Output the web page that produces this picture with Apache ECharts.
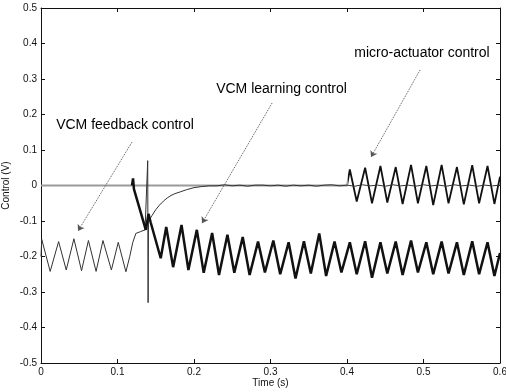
<!DOCTYPE html>
<html>
<head>
<meta charset="utf-8">
<script src="https://cdn.jsdelivr.net/npm/echarts@6/dist/echarts.min.js"></script>
<style>
  html, body { margin: 0; padding: 0; background: #fff; }
  #chart { width: 506px; height: 392px; }
</style>
</head>
<body>
<div id="chart"></div>
<script>
// time (s), control (V)
const feedback = [
  [0, -0.2], [0.001, -0.152], [0.012, -0.242], [0.023, -0.158], [0.033, -0.238],
  [0.043, -0.15], [0.053, -0.24], [0.062, -0.155], [0.072, -0.242], [0.081, -0.155],
  [0.092, -0.238], [0.101, -0.16], [0.111, -0.243], [0.116, -0.2], [0.12, -0.16],
  [0.124, -0.135], [0.13, -0.13], [0.136, -0.125], [0.1395, 0.07], [0.14, -0.33],
  [0.1405, -0.1], [0.145, -0.085], [0.15, -0.068], [0.155, -0.055], [0.16, -0.044],
  [0.165, -0.035], [0.17, -0.028], [0.175, -0.023], [0.182, -0.018], [0.19, -0.012],
  [0.2, -0.006], [0.21, -0.003], [0.22, -0.001], [0.23, -0.001], [0.24, 0.002],
  [0.25, -0.001], [0.26, 0.001], [0.27, -0.002], [0.28, 0.001], [0.29, 0.001],
  [0.3, -0.001], [0.31, 0.001], [0.32, -0.002], [0.33, 0.001], [0.34, -0.001],
  [0.35, 0.001], [0.36, -0.002], [0.37, 0.001], [0.38, 0.002], [0.39, -0.001],
  [0.4, 0.001], [0.41, -0.002], [0.42, 0.002], [0.43, -0.001], [0.44, 0.001],
  [0.45, -0.002], [0.46, 0.002], [0.47, -0.001], [0.48, 0.001], [0.49, -0.002],
  [0.5, 0.002], [0.51, -0.001], [0.52, 0.001], [0.53, -0.002], [0.54, 0.002],
  [0.55, -0.001], [0.56, 0.001], [0.57, -0.002], [0.58, 0.001], [0.59, -0.001],
  [0.6, 0.001]
];

const learning = [
  [0.119, 0], [0.1203, 0.02], [0.1215, -0.01], [0.137, -0.125], [0.1405, -0.08],
  [0.1435, -0.105], [0.1565, -0.205],
  [0.1637, -0.117], [0.1727, -0.23], [0.1837, -0.111], [0.1927, -0.238],
  [0.2037, -0.125], [0.2127, -0.246], [0.2237, -0.134], [0.2327, -0.252],
  [0.2437, -0.139], [0.2527, -0.246], [0.2637, -0.145], [0.2727, -0.252],
  [0.2837, -0.158], [0.2927, -0.245], [0.3037, -0.155], [0.3127, -0.25],
  [0.3237, -0.16], [0.3327, -0.262], [0.3437, -0.157], [0.3527, -0.248],
  [0.3637, -0.135], [0.3727, -0.255], [0.3837, -0.158], [0.3927, -0.245],
  [0.4037, -0.16], [0.4127, -0.25], [0.4237, -0.157], [0.4327, -0.26],
  [0.4437, -0.16], [0.4527, -0.248], [0.4637, -0.158], [0.4727, -0.252],
  [0.4837, -0.155], [0.4927, -0.245], [0.5037, -0.16], [0.5127, -0.25],
  [0.5237, -0.158], [0.5327, -0.248], [0.5437, -0.16], [0.5527, -0.252],
  [0.5637, -0.157], [0.5727, -0.25], [0.5837, -0.16], [0.5927, -0.255],
  [0.6, -0.19]
];

const micro = [
  [0, 0], [0.4, 0], [0.4037, 0.045], [0.4127, -0.045], [0.4237, 0.05],
  [0.4327, -0.05], [0.4437, 0.055], [0.4527, -0.048], [0.4637, 0.052],
  [0.4727, -0.052], [0.4837, 0.058], [0.4927, -0.05], [0.5037, 0.055],
  [0.5127, -0.055], [0.5237, 0.058], [0.5327, -0.05], [0.5437, 0.052],
  [0.5527, -0.053], [0.5637, 0.057], [0.5727, -0.05], [0.5837, 0.055],
  [0.5927, -0.052], [0.6, 0.025]
];
const microStart = 0.4;

// annotations: label, label centre, arrow start, arrow tip (data units)
const noteNames = ['VCM feedback control', 'VCM learning control', 'micro-actuator control'];
const notePos = [[0.1098, 0.17], [0.3144, 0.272], [0.498, 0.373]];
const arrowFrom = [[0.119, 0.1225], [0.302, 0.232], [0.4954, 0.325]];
const arrowTo = [[0.0484, -0.128], [0.2105, -0.106], [0.4314, 0.08]];

const xTicks = { min: 0, max: 0.6, interval: 0.1 };
const yTicks = { min: -0.5, max: 0.5, interval: 0.1 };

const chart = echarts.init(document.getElementById('chart'));

const fmt = v => String(+v.toFixed(1));
const tickStyle = { show: true, inside: true, length: 4, lineStyle: { color: '#111', width: 1 } };
const lineAxis = { show: true, onZero: false, lineStyle: { color: '#111', width: 1 } };
const labelStyle = { color: '#111', fontSize: 10, fontFamily: 'Liberation Sans, Arial, sans-serif' };

// micro-actuator output is flat (grey) until it switches on
const cut = (microStart - micro[0][0]) / (micro[micro.length - 1][0] - micro[0][0]);
const microColor = new echarts.graphic.LinearGradient(0, 0, 1, 0, [
  { offset: 0, color: '#9a9a9a' }, { offset: cut, color: '#9a9a9a' },
  { offset: cut, color: '#111' }, { offset: 1, color: '#111' }
]);

chart.setOption({
  animation: false,
  backgroundColor: '#fff',
  grid: { left: 41, right: 6, top: 8, bottom: 29, containLabel: false, outerBoundsMode: 'none' },
  xAxis: [
    {
      type: 'value', ...xTicks, position: 'bottom',
      axisLine: lineAxis, axisTick: tickStyle,
      axisLabel: { ...labelStyle, margin: 4, formatter: fmt },
      splitLine: { show: false },
      name: 'Time (s)', nameLocation: 'middle', nameGap: 15, nameMoveOverlap: false,
      nameTextStyle: labelStyle
    },
    {
      type: 'value', ...xTicks, position: 'top',
      axisLine: lineAxis, axisTick: tickStyle,
      axisLabel: { show: false }, splitLine: { show: false }
    }
  ],
  yAxis: [
    {
      type: 'value', ...yTicks, position: 'left',
      axisLine: lineAxis, axisTick: tickStyle,
      axisLabel: { ...labelStyle, margin: 4, formatter: fmt },
      splitLine: { show: false },
      name: 'Control (V)', nameLocation: 'middle', nameGap: 30, nameMoveOverlap: false,
      nameTextStyle: labelStyle
    },
    {
      type: 'value', ...yTicks, position: 'right',
      axisLine: lineAxis, axisTick: tickStyle,
      axisLabel: { show: false }, splitLine: { show: false }
    }
  ],
  series: [
    {
      name: 'VCM feedback control', type: 'line', data: feedback,
      showSymbol: false, z: 3,
      lineStyle: { color: '#333', width: 1 },
      markLine: {
        silent: true, symbol: ['none', 'arrow'], symbolSize: 6,
        label: { show: false },
        lineStyle: { color: '#555', width: 1, type: 'dotted' },
        data: arrowFrom.map((p, i) => [{ coord: p }, { coord: arrowTo[i] }])
      },
      markPoint: {
        silent: true, symbol: 'circle', symbolSize: 0,
        label: {
          show: true, position: 'inside', color: '#000', fontSize: 14,
          fontFamily: 'Liberation Sans, Arial, sans-serif',
          formatter: p => p.name
        },
        data: notePos.map((p, i) => ({ name: noteNames[i], coord: p }))
      }
    },
    {
      name: 'VCM learning control', type: 'line', data: learning,
      showSymbol: false, z: 4,
      lineStyle: { color: '#111', width: 2.5 }
    },
    {
      name: 'micro-actuator control', type: 'line', data: micro,
      showSymbol: false, z: 2,
      lineStyle: { color: microColor, width: 1.8 }
    }
  ]
});
</script>
</body>
</html>
